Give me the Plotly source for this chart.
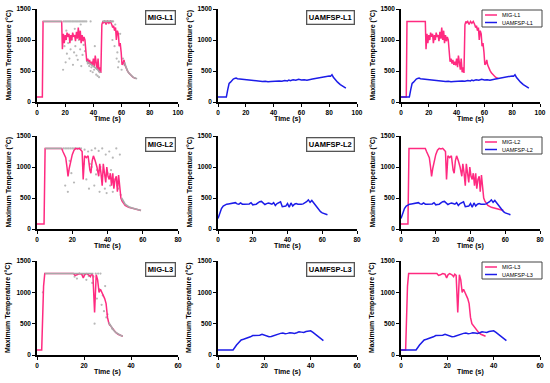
import plotly.graph_objects as go

# ---------------- data ----------------
MIG_L1_t = [0, 3.8, 4.3, 17.5, 18, 18.7, 19.3, 20, 20.7, 21.3, 22, 22.7, 23.3, 24, 24.7, 25.3, 26, 26.7, 27.3, 28, 28.7, 29.3, 30, 30.7, 31.3, 32, 32.7, 33.3, 34,
            34.7, 35.3, 36, 36.7, 37.3, 38, 38.7, 39.3, 40, 40.7, 41.3, 42, 42.7, 43.3, 44, 44.7, 45.3,
            46, 46.7, 47.3, 48, 49, 50, 51, 52, 53,
            53.7, 54.3, 55, 55.7, 56.3, 57, 57.7, 58.3, 59, 59.7, 60.3, 61, 61.7, 62.3, 63,
            64, 65, 66, 67, 68, 69, 70]
MIG_L1_T = [80, 80, 1300, 1300, 850, 1100, 950, 1080, 1000, 1120, 1050, 1100, 950, 1080, 1000, 1120, 1050, 1080, 980, 1130, 1020, 1200, 1000, 1150, 950, 1080, 980, 1050, 1000,
            680, 650, 700, 620, 680, 600, 650, 590, 700, 560, 750, 600, 520, 700, 480, 560, 470,
            1250, 1300, 1280, 1300, 1250, 1300, 1270, 1300, 1250,
            1200, 1230, 1150, 1200, 1000, 1150, 1100, 900, 950, 800, 600, 620, 680, 600, 550,
            510, 470, 440, 420, 400, 390, 380]

UAMFSP_L1_t = [0, 6, 7, 8, 9, 10, 11, 12, 13, 14,
               16, 18, 20, 22, 24, 26, 28, 30, 32, 34, 36, 38, 40, 42, 44, 46, 48, 50,
               51, 52,
               54, 56, 58, 60, 62, 64, 66, 68, 70, 72, 74, 76, 78, 80,
               81, 82, 83, 84, 86, 88, 90, 92]
UAMFSP_L1_T = [80, 80, 200, 300, 320, 350, 370, 380, 385, 375,
               370, 360, 355, 350, 345, 340, 335, 340, 330, 335, 325, 330, 335, 330, 340, 335, 345, 340,
               355, 345,
               360, 350, 365, 355, 360, 350, 365, 370, 380, 390, 395, 400, 410, 420,
               415, 440, 400, 370, 320, 280, 250, 225]

MIG_L2_t = [0, 4, 4.6, 14, 14.7, 15.5, 16.3, 17, 17.6, 18.3, 19, 20, 21, 22, 23, 24, 25, 25.6, 26.2,
            27, 28, 29, 30, 30.6, 31.3, 32, 33, 34, 35,
            35.6, 36.3, 37, 37.6, 38.3, 39, 39.6, 40.3, 41, 41.6, 42.3, 43, 43.6, 44.3, 45, 45.6, 46.3, 47, 47.6, 48.3, 49,
            50, 52, 54, 56, 58, 59]
MIG_L2_T = [80, 80, 1300, 1300, 1250, 1200, 1150, 1000, 850, 980, 1100, 1200, 1270, 1300, 1290, 1300, 1270, 1250, 800,
            1180, 1150, 1180, 950, 900, 1100, 1180, 1100, 1000, 850,
            1050, 900, 700, 1050, 900, 750, 1000, 850, 800, 900, 700, 900, 650, 800, 850, 600, 870, 700, 500, 450, 420,
            380, 350, 335, 320, 305, 300]

UAMFSP_L2_t = [0, 1, 2, 3, 4, 5, 6, 8, 9, 10, 11, 12, 13, 14, 15,
               17, 18, 19, 20, 21, 22, 23, 24, 25, 26, 27, 28, 29, 30, 31, 32, 33, 34, 35, 36, 37, 38, 39, 40,
               41, 42, 43, 44, 45, 46, 47, 48, 49, 50, 51, 52, 53, 54, 55, 56, 57, 58, 59, 60, 61, 62, 63]
UAMFSP_L2_T = [170, 250, 330, 370, 390, 400, 405, 410, 415, 425, 405, 400, 420, 400, 400,
               400, 405, 425, 390, 395, 400, 420, 440, 445, 420, 395, 410, 420, 410, 400, 425, 380, 410, 420, 440,
               360, 365, 370, 410, 350, 420, 370, 400, 410, 400, 395, 400, 405, 420, 440, 470, 430, 460, 420, 400,
               350, 300, 280, 260, 250, 240, 230]

MIG_L3_t = [0, 2, 2.8, 3.3, 15.5, 16.2, 17, 18, 19, 19.7, 20.3, 21, 22, 22.7, 23.2, 23.8,
            24.5, 25.2, 25.8, 26.4, 27, 27.6, 28.2, 28.8, 29.4, 30, 30.6,
            31.5, 32.5, 33.5, 34.5, 35.5, 36.5]
MIG_L3_T = [80, 80, 1100, 1300, 1300, 1270, 1280, 1300, 1290, 1230, 1280, 1300, 1280, 1250, 1290, 1270,
            680, 1280, 1200, 1000, 1050, 1000, 930, 900, 820, 600, 500,
            450, 400, 360, 330, 315, 300]

UAMFSP_L3_t = [0, 6.5, 8, 9, 10, 11, 12, 13, 14, 15, 16, 17, 18, 19, 20, 21, 22, 23, 24, 25, 26, 27, 28,
               29, 30, 31, 32, 33, 34, 35, 36, 37, 38, 39, 40, 41, 42, 43, 44, 45.5]
UAMFSP_L3_T = [80, 80, 160, 210, 240, 250, 260, 270, 290, 310, 310, 305, 315, 330, 320, 300, 290, 295, 310,
               320, 330, 345, 350, 340, 345, 355, 350, 345, 355, 370, 365, 360, 375, 380, 385, 360, 330, 290, 265, 230]

# gray reference curves (overlay) and scattered gray points in the MIG panels
GRAY_L1_t = [4.3, 17.5, None, 35, 37, 39, 41, 43, 45, None, 46.5, 54, None, 62, 63, 64, 65, 66, 67, 68, 69, 70, 71]
GRAY_L1_T = [1300, 1300, None, 660, 630, 590, 560, 520, 470, None, 1300, 1300, None, 640, 560, 510, 470, 445, 420, 405, 390, 380, 375]
GRAY_L2_t = [4.6, 14, None, 48, 49, 50, 51, 52, 54, 56, 58, 59]
GRAY_L2_T = [1300, 1300, None, 500, 440, 400, 380, 360, 340, 325, 310, 300]
GRAY_L3_t = [3.3, 24, None, 30.5, 31.5, 32.5, 33.5, 34.5, 35.5, 36.5]
GRAY_L3_T = [1300, 1300, None, 520, 450, 400, 360, 330, 315, 300]

DOTS_L1_t = [19, 20, 21, 22, 23, 24, 25, 26, 27, 28, 29, 30, 31, 32, 33, 34, 35,
             18.5, 19.5, 20.3, 21.2, 22.1, 23, 23.8, 24.6, 25.5, 26.3, 27.2, 28, 28.9, 29.7, 30.6, 31.4, 32.3, 33.1, 34, 20.8, 26.8, 31,
             36, 37, 38, 38.6, 39.5, 40.5, 41, 42, 43, 44, 38,
             47, 48, 49, 50, 51, 52, 53, 54, 55, 55.5, 56.5, 57, 58, 59, 60, 61, 62, 53.5, 57.5]
DOTS_L1_T = [1300, 1300, 1300, 1300, 1300, 1300, 1300, 1300, 1300, 1300, 1300, 1300, 1300, 1300, 1300, 1300, 1300,
             520, 900, 640, 780, 950, 700, 850, 1000, 600, 800, 900, 750, 680, 1000, 850, 580, 760, 920, 820, 1150, 1180, 1250,
             620, 580, 500, 560, 480, 520, 900, 440, 420, 400, 1300,
             1300, 1300, 1300, 1300, 1300, 1300, 1300, 1300, 900, 1250, 700, 800, 650, 1100, 520, 700, 600, 1000, 560]
DOTS_L2_t = [15, 16, 17, 18, 19, 20, 21, 22, 23, 24, 25, 27, 29, 31, 33, 35, 37, 39, 41, 43, 45, 47,
             16, 17.5, 18.5, 19.5, 21, 26.5, 28, 29.5, 31, 32.5, 34, 35.5, 37, 38.5, 40, 41.5, 43, 44.5, 46, 47.5,
             30, 36, 42, 45.5, 39.5, 33.5]
DOTS_L2_T = [1300, 1300, 1300, 1300, 1300, 1300, 1300, 1300, 1300, 1300, 1300,
             1280, 1250, 1270, 1300, 1260, 1300, 1200, 1250, 1150, 1300, 1200,
             700, 600, 1100, 900, 750, 1050, 800, 650, 1000, 700, 950, 600, 850, 650, 900, 700, 600, 800, 650, 550,
             1050, 1000, 950, 700, 580, 880]
DOTS_L3_t = [16, 17, 18, 19.5, 21, 22, 25, 26, 27, 28, 29, 30, 23.5, 24.5, 25.5, 26.5, 27.5, 28.5, 29.5, 2.5, 24, 31, 32]
DOTS_L3_T = [1250, 1220, 1300, 1280, 1200, 1260, 1300, 1300, 1300, 950, 1100, 650, 1150, 500, 900, 1050, 800, 700, 600, 1000, 1250, 480, 420]

LABELS = ["L1", "L2", "L3"]
X_MAX = [100, 80, 60]
X_TICKS = [[0, 20, 40, 60, 80, 100], [0, 20, 40, 60, 80], [0, 20, 40, 60]]
Y_TICKS = [0, 500, 1000, 1500]

MIG = [(MIG_L1_t, MIG_L1_T), (MIG_L2_t, MIG_L2_T), (MIG_L3_t, MIG_L3_T)]
UAM = [(UAMFSP_L1_t, UAMFSP_L1_T), (UAMFSP_L2_t, UAMFSP_L2_T), (UAMFSP_L3_t, UAMFSP_L3_T)]
GRAY = [(GRAY_L1_t, GRAY_L1_T), (GRAY_L2_t, GRAY_L2_T), (GRAY_L3_t, GRAY_L3_T)]
DOTS = [(DOTS_L1_t, DOTS_L1_T), (DOTS_L2_t, DOTS_L2_T), (DOTS_L3_t, DOTS_L3_T)]

# ---------------- layout helpers ----------------
W, H = 550, 383
def PX(p): return p / W
def PY(p): return 1 - p / H

COLS = [(37, 178), (218, 357), (401, 540)]
ROWS = [(9, 102), (136, 229), (261, 355)]

PINK = "#ff2a80"
BLUE = "#1c1ce8"
GRAYC = "#a8a8a8"
FONT = "Liberation Sans, Arial, sans-serif"

fig = go.Figure()
layout = dict(width=W, height=H, margin=dict(l=0, r=0, t=0, b=0, autoexpand=False),
              plot_bgcolor="white", paper_bgcolor="white", showlegend=False,
              font=dict(family=FONT, color="black"))
annotations = []
shapes = []

for r in range(3):
    for c in range(3):
        k = r * 3 + c + 1
        xa = "x" if k == 1 else f"x{k}"
        ya = "y" if k == 1 else f"y{k}"
        x0, x1 = COLS[c]
        y0, y1 = ROWS[r]
        layout["xaxis" if k == 1 else f"xaxis{k}"] = dict(
            domain=[PX(x0), PX(x1)], anchor=ya, range=[0, X_MAX[r]], tickvals=X_TICKS[r],
            showline=True, linecolor="black", linewidth=1.5, ticks="outside", ticklen=3,
            tickwidth=1.2, tickcolor="black", showgrid=False, zeroline=False, automargin=False,
            tickfont=dict(size=6.5, family=FONT, weight="bold"))
        layout["yaxis" if k == 1 else f"yaxis{k}"] = dict(
            domain=[PY(y1), PY(y0)], anchor=xa, range=[0, 1500], tickvals=Y_TICKS,
            showline=True, linecolor="black", linewidth=1.5, ticks="outside", ticklen=3,
            tickwidth=1.2, tickcolor="black", showgrid=False, zeroline=False, automargin=False,
            tickfont=dict(size=6.5, family=FONT, weight="bold"))

        mt, mT = MIG[r]
        ut, uT = UAM[r]
        if c == 0:
            dt, dT = DOTS[r]
            fig.add_trace(go.Scatter(x=dt, y=dT, mode="markers", xaxis=xa, yaxis=ya,
                                     marker=dict(size=2.2, color="#b8b8b8")))
            fig.add_trace(go.Scatter(x=mt, y=mT, mode="lines", xaxis=xa, yaxis=ya,
                                     line=dict(color=PINK, width=1.5)))
            gt, gT = GRAY[r]
            fig.add_trace(go.Scatter(x=gt, y=gT, mode="lines", xaxis=xa, yaxis=ya,
                                     connectgaps=False, line=dict(color=GRAYC, width=1.6)))
        elif c == 1:
            fig.add_trace(go.Scatter(x=ut, y=uT, mode="lines", xaxis=xa, yaxis=ya,
                                     line=dict(color=BLUE, width=1.5)))
        else:
            fig.add_trace(go.Scatter(x=mt, y=mT, mode="lines", xaxis=xa, yaxis=ya,
                                     line=dict(color=PINK, width=1.5)))
            fig.add_trace(go.Scatter(x=ut, y=uT, mode="lines", xaxis=xa, yaxis=ya,
                                     line=dict(color=BLUE, width=1.5)))

        # axis titles
        annotations.append(dict(text="<b>Time (s)</b>", xref="paper", yref="paper",
                                x=PX((x0 + x1) / 2), y=PY(ROWS[r][1] + 17), xanchor="center", yanchor="middle",
                                showarrow=False, font=dict(size=7, family=FONT)))
        annotations.append(dict(text="<b>Maximum Temperature (°C)</b>", xref="paper", yref="paper",
                                x=PX(x0 - 29), y=PY((y0 + y1) / 2), xanchor="center", yanchor="middle",
                                textangle=-90, showarrow=False, font=dict(size=7, family=FONT)))

        if c < 2:
            name = ("MIG-" if c == 0 else "UAMFSP-") + LABELS[r]
            annotations.append(dict(text=f"<b>{name}</b>", xref="paper", yref="paper",
                                    x=PX(x1 - 2), y=PY(y0 + 1), xanchor="right", yanchor="top",
                                    showarrow=False, font=dict(size=7.5, family=FONT),
                                    bordercolor="#555555", borderwidth=1.3, borderpad=1.5,
                                    bgcolor="white"))
        else:
            # legend box
            lx0, lx1 = x1 - 58, x1 + 2
            ly0, ly1 = y0 + 1, y0 + 18
            shapes.append(dict(type="rect", xref="paper", yref="paper",
                               x0=PX(lx0), x1=PX(lx1), y0=PY(ly1), y1=PY(ly0),
                               line=dict(color="#444444", width=1), fillcolor="white", layer="above"))
            for i, (nm, col) in enumerate([("MIG-" + LABELS[r], PINK), ("UAMFSP-" + LABELS[r], BLUE)]):
                yy = ly0 + 5 + i * 7.5
                shapes.append(dict(type="line", xref="paper", yref="paper",
                                   x0=PX(lx0 + 3), x1=PX(lx0 + 15), y0=PY(yy), y1=PY(yy),
                                   line=dict(color=col, width=1.5), layer="above"))
                annotations.append(dict(text=nm, xref="paper", yref="paper",
                                        x=PX(lx0 + 18), y=PY(yy), xanchor="left", yanchor="middle",
                                        showarrow=False, font=dict(size=5.5, family=FONT)))

layout["annotations"] = annotations
layout["shapes"] = shapes
fig.update_layout(**layout)
fig.write_html("out.html", config={"displayModeBar": False},
               post_script="document.body.style.margin='0';document.body.style.overflow='hidden';")
